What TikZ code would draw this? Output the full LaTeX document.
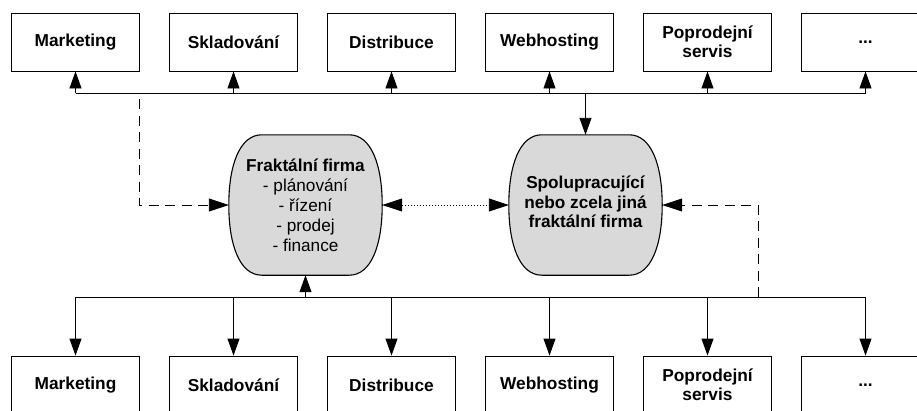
\documentclass[tikz,border=0pt]{standalone}
\usepackage{fontspec}
\setmainfont{Liberation Sans}
\usetikzlibrary{arrows.meta,calc}
\definecolor{barrelgrey}{RGB}{217,217,217}
\tikzset{
  unitbox/.style={draw, line width=0.9pt, fill=white, minimum width=128pt, minimum height=58pt,
    inner sep=2pt, align=center, font=\fontsize{17.3}{19}\selectfont\bfseries},
  barrelnode/.style={inner sep=0pt, minimum width=153pt, minimum height=140pt},
  midtext/.style={align=center, inner sep=0pt, font=\fontsize{17.2}{20}\selectfont},
  barrelline/.style={draw=black, line width=1.1pt, fill=barrelgrey},
  link/.style={line width=0.9pt},
  varr/.style={link, -{Triangle[length=17pt,width=12pt]}},
  harr/.style={-{Triangle[length=20pt,width=13pt]}},
  dashline/.style={link, dash pattern=on 10pt off 6.5pt},
  dotline/.style={link, dash pattern=on 1.5pt off 1.5pt, {Triangle[length=20pt,width=13pt]}-{Triangle[length=20pt,width=13pt]}}
}
\newcommand\barrelpath[1]{%
  \path[barrelline] ($(#1.north west)+(33,0)$) -- ($(#1.north east)+(-33,0)$)
   .. controls ($(#1.north east)+(-11,0)$) and ($(#1.north east)+(0,30)$) .. (#1.east)
   .. controls ($(#1.south east)+(0,-30)$) and ($(#1.south east)+(-11,0)$) .. ($(#1.south east)+(-33,0)$)
   -- ($(#1.south west)+(33,0)$)
   .. controls ($(#1.south west)+(11,0)$) and ($(#1.south west)+(0,-30)$) .. (#1.west)
   .. controls ($(#1.north west)+(0,30)$) and ($(#1.north west)+(11,0)$) .. cycle;}
\begin{document}
\begin{tikzpicture}[x=1pt,y=-1pt]
\useasboundingbox (0,0) rectangle (917,410);
\clip (0,0) rectangle (917,410);
% top row
\node[unitbox] (t1) at (75.5,42) {Marketing};
\node[unitbox] (t2) at (233.5,42) {Skladování};
\node[unitbox] (t3) at (391.5,42) {Distribuce};
\node[unitbox] (t4) at (549.5,42) {Webhosting};
\node[unitbox] (t5) at (707.5,42) {Poprodejní\\servis};
\node[unitbox] (t6) at (865.5,42) {...};
% bottom row
\node[unitbox] (b1) at (75.5,385) {Marketing};
\node[unitbox] (b2) at (233.5,385) {Skladování};
\node[unitbox] (b3) at (391.5,385) {Distribuce};
\node[unitbox] (b4) at (549.5,385) {Webhosting};
\node[unitbox] (b5) at (707.5,385) {Poprodejní\\servis};
\node[unitbox] (b6) at (865.5,385) {...};
% middle barrels
\node[barrelnode] (f) at (305.5,205) {};
\node[barrelnode] (s) at (585.5,205) {};
\barrelpath{f}
\barrelpath{s}
\node[midtext] (ft) at (305.5,205) {\textbf{Fraktální firma}\\- plánování\\- řízení\\- prodej\\- finance};
\node[midtext, font=\fontsize{17.2}{19.3}\selectfont\bfseries] (st) at (585.5,202) {Spolupracující\\nebo zcela jiná\\fraktální firma};
% buses
\foreach \i in {1,...,6} {
  \coordinate (ta\i) at (t\i.south |- 0,93);
  \coordinate (ba\i) at (b\i.north |- 0,297);
}
\draw[link] (ta1) -- (ta6);
\draw[link] (ba1) -- (ba6);
\foreach \i in {1,...,6} {
  \draw[varr] (ta\i) -- (t\i.south);
  \draw[varr] (ba\i) -- (b\i.north);
}
\draw[varr] (s.north |- ta1) -- (s.north);
\draw[varr] (f.south |- ba1) -- (f.south);
% dashed feedback links
\coordinate (dl) at (139,99);
\coordinate (dr) at (758,297);
\draw[dashline, harr] (dl) |- (f.west);
\draw[dashline, harr] (dr) |- (s.east);
% dotted link between firms
\draw[dotline] (f.east) -- (s.west);
\end{tikzpicture}
\end{document}
